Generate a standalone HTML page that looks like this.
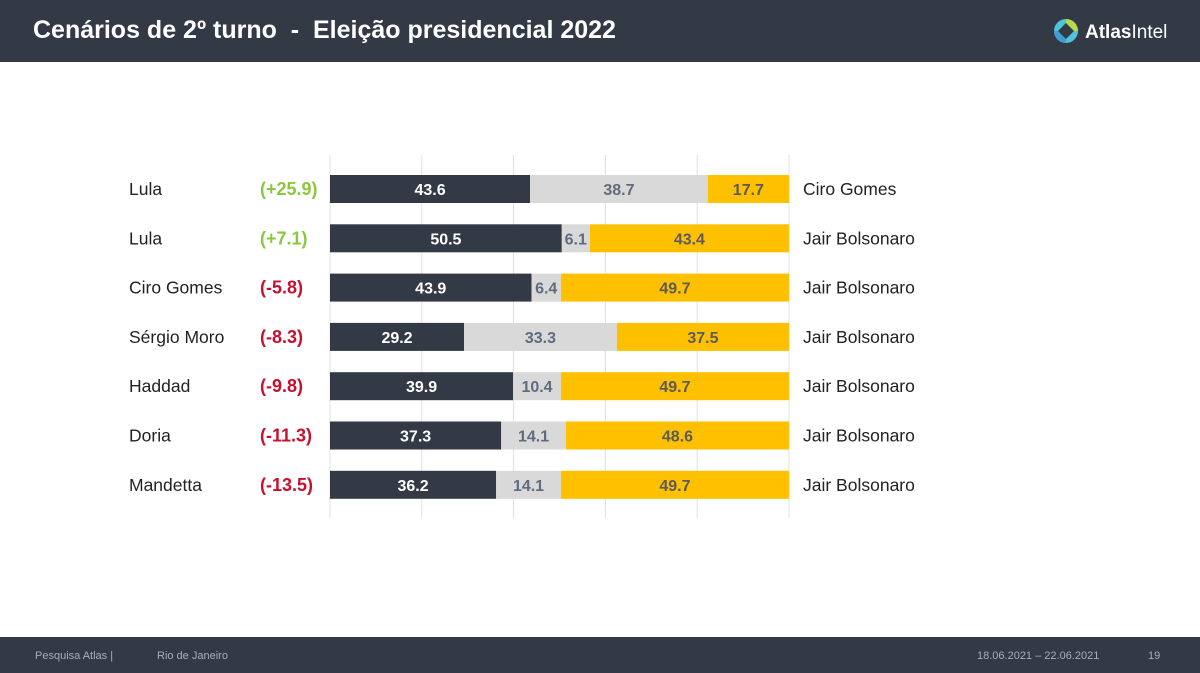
<!DOCTYPE html>
<html><head><meta charset="utf-8"><style>
body{margin:0;width:1200px;height:673px;position:relative;background:#fff;font-family:"Liberation Sans",sans-serif;overflow:hidden}
.hdr{position:absolute;left:0;top:0;width:1200px;height:62px;background:#333a46}
.ttl{position:absolute;left:33px;top:16px;color:#fff;font-weight:bold;font-size:25px;white-space:nowrap}
.ftr{position:absolute;left:0;top:637px;width:1200px;height:36px;background:#333a46;color:#a9aeb6;font-size:11px}
.ftr span{position:absolute;top:13px}
</style></head><body>
<div class="hdr">
<div class="ttl">Cenários de 2º turno &nbsp;- &nbsp;Eleição presidencial 2022</div>
<svg style="position:absolute;left:1052px;top:16px" width="140" height="30">
<circle cx="14" cy="15" r="12" fill="#4fc3d9"/><path d="M14 3 A12 12 0 0 1 26 15 L14 15Z" fill="#b6d94c"/><path d="M2 15 A12 12 0 0 0 14 27 L14 15Z" fill="#3d9fd6"/>
<path d="M14 7 L22 15 L14 23 L6 15Z" fill="#333a46"/>
<text x="33" y="22" fill="#fff" font-size="19" font-family="Liberation Sans" font-weight="bold">Atlas<tspan font-weight="normal">Intel</tspan></text></svg>
</div>
<svg id="chart" style="position:absolute;left:0;top:62px" width="1200" height="575"></svg>
<div class="ftr">
<span style="left:35px">Pesquisa Atlas |</span>
<span style="left:157px">Rio de Janeiro</span>
<span style="left:977px">18.06.2021 – 22.06.2021</span>
<span style="left:1148px">19</span>
</div>
<script>
const leftNames=["Lula","Lula","Ciro Gomes","Sérgio Moro","Haddad","Doria","Mandetta"];
const rightNames=["Ciro Gomes","Jair Bolsonaro","Jair Bolsonaro","Jair Bolsonaro","Jair Bolsonaro","Jair Bolsonaro","Jair Bolsonaro"];
const leftVals=[43.6,50.5,43.9,29.2,39.9,37.3,36.2];
const otherVals=[38.7,6.1,6.4,33.3,10.4,14.1,14.1];
const rightVals=[17.7,43.4,49.7,37.5,49.7,48.6,49.7];
const margins=["(+25.9)","(+7.1)","(-5.8)","(-8.3)","(-9.8)","(-11.3)","(-13.5)"];
const gridTicks=[0,20,40,60,80,100];
const svg=document.getElementById('chart');const NS='http://www.w3.org/2000/svg';
const x0=330,x1=789,top0=113,step=49.3,bh=28;
const xs=v=>x0+(x1-x0)*v/100;
const ys=i=>top0+i*step;
function mk(t,a){const e=document.createElementNS(NS,t);for(const k in a)e.setAttribute(k,a[k]);svg.appendChild(e);return e;}
gridTicks.forEach((t,i)=>{const l=mk('line',{x1:xs(t),x2:xs(t),y1:93,y2:456,stroke:'#e0e0e0','stroke-width':1});

});
function txt(x,y,s,o){const e=mk('text',Object.assign({x:x,y:y,'font-family':'Liberation Sans, sans-serif','font-size':17.5},o));e.textContent=s;return e;}
leftNames.forEach((n,i)=>{const y=ys(i),cy=y+bh/2;
const segs=[[0,leftVals[i],'#333a46','#fff','left'],[leftVals[i],otherVals[i],'#d9d9d9','#5f6b7f','other'],[leftVals[i]+otherVals[i],rightVals[i],'#ffc000','#5b5b5b','right']];
segs.forEach(s=>{const r=mk('rect',{x:xs(s[0]),y:y,width:xs(s[0]+s[1])-xs(s[0]),height:bh,fill:s[2]});


const t=txt((xs(s[0])+xs(s[0]+s[1]))/2,cy+6,s[1].toFixed(1),{'text-anchor':'middle','font-weight':'bold','font-size':16,fill:s[3]});

});
const a=txt(129,cy+6,n,{fill:'#222'});


const m=txt(260,cy+6,margins[i],{fill:margins[i].includes('+')?'#8dc63f':'#c8102e','font-weight':'bold','font-size':18});


const b=txt(803,cy+6,rightNames[i],{fill:'#222'});


});
</script>
</body></html>
